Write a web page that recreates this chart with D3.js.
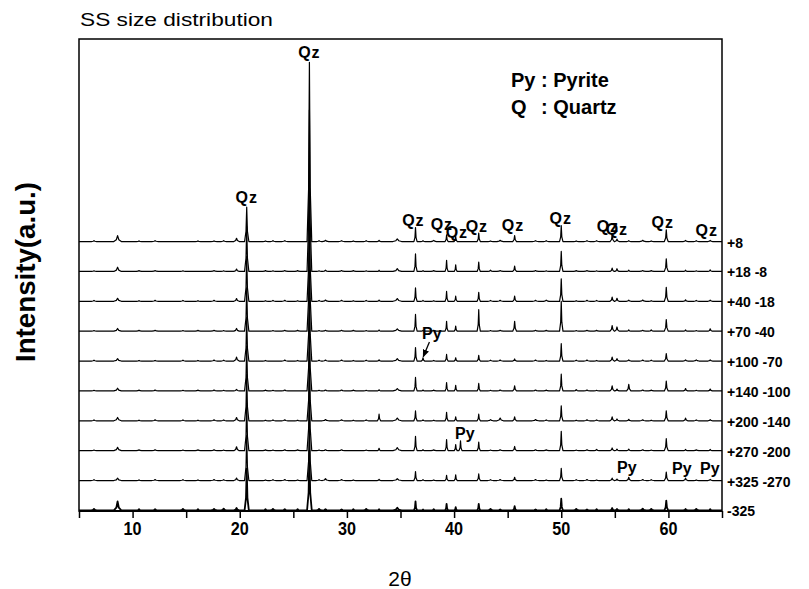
<!DOCTYPE html>
<html><head><meta charset="utf-8">
<script src="https://cdn.jsdelivr.net/npm/d3@7"></script>
<style>
body{margin:0;background:#fff}
svg{display:block}
text{font-family:"Liberation Sans",Arial,Helvetica,sans-serif;fill:#000;white-space:pre}
</style>
</head><body>
<svg id="c" width="809" height="589"></svg>
<script>
// ---------------- data ----------------
const samples = ["+8","+18 -8","+40 -18","+70 -40","+100 -70","+140 -100","+200 -140","+270 -200","+325 -270","-325"];
const peakPos = [8.6,12.1,17.6,19.7,20.65,24.2,26.5,28.0,29.5,33.0,34.7,36.4,37.1,39.3,40.15,40.6,42.3,44.3,45.65,47.6,50.0,52.4,54.75,55.2,56.3,57.6,59.8,61.6,63.9];
const peakHalfWidth = [0.35,0.3,0.3,0.25,0.2,0.3,0.22,0.3,0.3,0.15,0.4,0.15,0.15,0.14,0.14,0.14,0.15,0.3,0.18,0.3,0.16,0.3,0.2,0.2,0.2,0.3,0.18,0.2,0.2];
const intensity = [
  [20,3,2,11,115,3,600,4,3,4,9,47,3,22,17,0,28,4,20,3,53,3,20,8,3,4,39,4,4],
  [14,3,3,8,150,3,540,4,3,4,9,59,3,37,22,0,31,3,18,3,67,3,11,9,4,3,42,4,5],
  [10,3,3,9,150,3,380,4,3,4,9,45,3,33,17,0,30,3,17,3,75,3,14,10,4,4,47,5,4],
  [9,3,3,9,145,3,360,3,3,4,8,56,3,33,17,0,72,3,33,3,100,3,19,14,4,3,39,4,8],
  [8,2,3,13,145,3,300,3,3,4,8,45,11,22,11,0,19,3,7,3,58,3,13,8,4,3,25,4,4],
  [9,3,3,5,150,3,260,3,3,4,8,45,3,28,19,0,25,3,17,3,56,3,17,6,22,3,33,8,6],
  [11,3,3,11,155,3,230,4,3,22,9,33,3,28,13,0,22,9,13,4,50,3,13,6,5,3,33,9,4],
  [11,3,3,13,160,3,250,3,3,8,10,48,3,37,20,33,29,3,14,3,65,3,9,5,5,3,40,4,4],
  [8,3,3,8,150,3,220,6,3,4,6,30,3,17,19,0,22,3,11,3,41,3,8,5,11,3,28,8,4],
  [30,4,5,8,140,4,200,4,3,4,9,30,3,22,11,0,22,3,14,3,39,3,8,5,4,6,33,5,4]
];
// small baseline wiggles
const minorPos = [6.4,10.6,14.7,16.1,18.5,22.4,23.1,25.4,27.4,30.6,31.8,38.1,43.4,48.6,51.4,53.3,58.4,62.6];
const minorHeight = [
  [3,2,0,2,3,2,3,0,3,2,3,4,2,3,2,3,2,3],
  [2,3,2,0,2,3,2,3,2,3,2,3,4,2,3,2,3,2],
  [3,2,3,2,0,2,3,2,3,2,3,2,3,4,2,3,2,3],
  [2,3,2,3,2,0,2,3,2,3,2,3,2,3,2,3,4,2],
  [3,2,3,2,3,2,0,2,3,2,3,2,3,2,3,2,3,4],
  [2,3,2,3,2,3,2,0,2,3,2,3,2,3,4,2,3,2],
  [3,2,3,2,3,2,3,2,0,2,3,2,4,3,2,3,2,3],
  [2,3,2,3,2,3,2,3,2,0,2,3,2,3,2,4,2,3],
  [3,2,3,2,3,2,3,2,3,2,0,2,3,2,3,2,3,2],
  [5,4,5,4,6,4,5,4,5,4,5,4,5,4,5,4,5,5]
];
const traceStep = 100;
const xTicks = [5,10,15,20,25,30,35,40,45,50,55,60,65];
const xTickLabels = [10,20,30,40,50,60];
// annotation anchors in data units [2theta, intensity]
const qzLabels = [[20.65,1031],[26.5,1517],[36.2,954],[38.86,941],[40.26,914],[42.13,934],[45.49,937],[49.96,960],[54.35,934],[55.19,924],[59.48,947],[63.58,921]];
const pyLabels = [[37.93,576],[41.0,241],[56.12,127],[61.25,124],[63.86,124]];
const pyArrow = [[37.7,566],[37.12,516]];

// ---------------- chart ----------------
const svg = d3.select("#c");
const L = 79, R = 722, T = 39, B = 511;
const x = d3.scaleLinear().domain([5,65]).range([L,R]);
const y = d3.scaleLinear().domain([0,1580]).range([B,T]);
const n = samples.length;
const offset = i => (n-1-i)*traceStep + 2;

const defs = svg.append("defs");
defs.append("clipPath").attr("id","clip")
  .append("rect").attr("x",L).attr("y",T).attr("width",R-L).attr("height",B-T);
const marker = defs.append("marker").attr("id","arr")
  .attr("viewBox","0 0 10 10").attr("refX",9).attr("refY",5)
  .attr("markerWidth",8).attr("markerHeight",8).attr("orient","auto")
  .attr("markerUnits","userSpaceOnUse");
marker.append("path").attr("d","M0,1 L10,5 L0,9 Z").attr("fill","#000");

const line = d3.line().x(d=>x(d[0])).y(d=>y(d[1]));

const g = svg.append("g").attr("clip-path","url(#clip)");
samples.forEach((s,i)=>{
  const off = offset(i);
  const peaks = [];
  peakPos.forEach((p,k)=>{ if(intensity[i][k]) peaks.push([p,peakHalfWidth[k],intensity[i][k]]); });
  minorPos.forEach((p,k)=>{ if(minorHeight[i][k]) peaks.push([p,0.25,minorHeight[i][k]]); });
  peaks.sort((a,b)=>a[0]-b[0]);
  const pts = [[5,off]];
  peaks.forEach(([p,w,h])=>{
    pts.push([p-w,off],[p-w/3,off+h*0.3],[p,off+h],[p+w/3,off+h*0.3],[p+w,off]);
  });
  pts.push([65,off]);
  g.append("path").attr("d",line(pts)).attr("fill","none")
    .attr("stroke","#000").attr("stroke-width", i===n-1?1.8:1.2)
    .attr("stroke-linejoin","round");
});

// frame
svg.append("rect").attr("x",L).attr("y",T).attr("width",R-L).attr("height",B-T)
  .attr("fill","none").attr("stroke","#000").attr("stroke-width",1.5);
svg.append("line").attr("x1",L).attr("x2",R).attr("y1",B).attr("y2",B)
  .attr("stroke","#000").attr("stroke-width",2);

// x axis
const xa = svg.append("g").attr("transform",`translate(0,${B})`)
  .call(d3.axisBottom(x).tickValues(xTicks).tickSize(7).tickFormat(""));
xa.select(".domain").remove();
xa.selectAll("line").attr("stroke","#000").attr("stroke-width",1.5);
svg.selectAll(".xl").data(xTickLabels).enter().append("text")
  .attr("x",d=>x(d)).attr("y",B+24).attr("text-anchor","middle")
  .attr("font-size",18).attr("font-weight","bold")
  .attr("transform",d=>`translate(${x(d)},0) scale(0.9,1) translate(${-x(d)},0)`).text(d=>d);

// sample labels on right
svg.selectAll(".sl").data(samples).enter().append("text")
  .attr("x",R+5).attr("y",(d,i)=>y(offset(i))+6)
  .attr("font-size",14).attr("font-weight","bold").text(d=>d);

// Qz labels
svg.selectAll(".qz").data(qzLabels).enter().append("text")
  .attr("x",d=>x(d[0])).attr("y",d=>y(d[1])).attr("text-anchor","middle")
  .attr("font-size",16).attr("font-weight","bold").attr("letter-spacing",1).text("Qz");
// Py labels
svg.selectAll(".py").data(pyLabels).enter().append("text")
  .attr("x",d=>x(d[0])).attr("y",d=>y(d[1])).attr("text-anchor","middle")
  .attr("font-size",16).attr("font-weight","bold").text("Py");
svg.append("line").attr("x1",x(pyArrow[0][0])).attr("y1",y(pyArrow[0][1]))
  .attr("x2",x(pyArrow[1][0])).attr("y2",y(pyArrow[1][1]))
  .attr("stroke","#000").attr("stroke-width",1.3).attr("marker-end","url(#arr)");

// legend
const lg = svg.append("g").attr("font-size",20).attr("font-weight","bold");
lg.append("text").attr("x",511).attr("y",87).text("Py : Pyrite");
const pw = lg.append("text").attr("x",0).attr("y",-50).text("Py ");
const cx = 511 + pw.node().getComputedTextLength();
pw.remove();
lg.append("text").attr("x",511).attr("y",114).text("Q");
lg.append("text").attr("x",cx).attr("y",114).text(": Quartz");

// title
svg.append("text").attr("x",80).attr("y",26).attr("font-size",18)
  .attr("textLength",193).attr("lengthAdjust","spacingAndGlyphs").text("SS size distribution");

// axis titles
svg.append("text").attr("transform","translate(35,272) rotate(-90)")
  .attr("text-anchor","middle").attr("font-size",28).attr("font-weight","bold")
  .attr("textLength",180).attr("lengthAdjust","spacingAndGlyphs").text("Intensity(a.u.)");
svg.append("text").attr("x",400).attr("y",586).attr("text-anchor","middle")
  .attr("font-size",21).text("2θ");
</script>
</body></html>
